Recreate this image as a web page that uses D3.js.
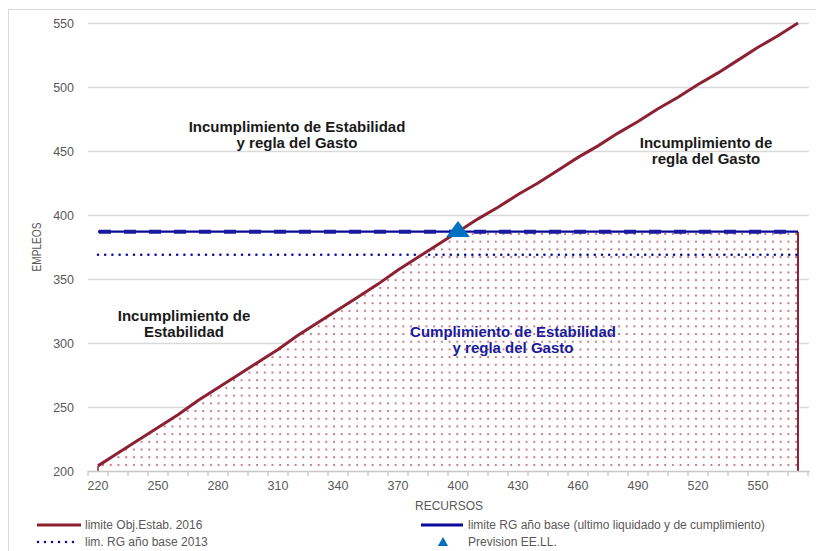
<!DOCTYPE html>
<html><head><meta charset="utf-8">
<script src="https://cdn.jsdelivr.net/npm/d3@7"></script>
<style>
html,body{margin:0;padding:0;background:#fff;}
svg{display:block;font-family:"Liberation Sans",Arial,sans-serif;}
</style></head>
<body>
<svg id="chart" width="816" height="551"></svg>
<script>
// ---- data ----
const categories = [220,230,240,250,260,270,280,290,300,310,320,330,340,350,360,370,380,390,400,410,420,430,440,450,460,470,480,490,500,510,520,530,540,550,560,570];
const limiteEstab = [204,214,224,234,244,255,265,275,285,295,306,316,326,336,346,357,367,377,387,397,406,416,425,435,445,454,464,473,483,492,502,511,521,531,540,550];
const limiteRG = [387,387,387,387,387,387,387,387,387,387,387,387,387,387,387,387,387,387,387,387,387,387,387,387,387,387,387,387,387,387,387,387,387,387,387,387];
const limRG2013 = [369,369,369,369,369,369,369,369,369,369,369,369,369,369,369,369,369,369,369,369,369,369,369,369,369,369,369,369,369,369,369,369,369,369,369,369];
const prevision = [{x:400, y:387}];
const yTicks = [200,250,300,350,400,450,500,550];
const xTickLabels = [220,250,280,310,340,370,400,430,460,490,520,550];
const legendItems = ["limite  Obj.Estab. 2016","limite RG año base (ultimo liquidado y de cumplimiento)","lim. RG año base 2013","Prevision EE.LL."];

// ---- layout ----
const svg = d3.select("#chart");
const L = 88, R = 808, T = 23, B = 471;
const x = d3.scalePoint().domain(categories).range([L, R]).padding(0.5);
const y = d3.scaleLinear().domain([200, 550]).range([B, T]);
const RED = "#8c2133", NAVY = "#0a0a9a", GRID = "#d9d9d9", TXT = "#595959";

// outer border
svg.append("rect").attr("x",8.5).attr("y",9.5).attr("width",820).attr("height",560)
  .attr("fill","none").attr("stroke","#d9d9d9");

// pattern
const defs = svg.append("defs");
const P = 7.7;
const pat = defs.append("pattern").attr("id","dots").attr("patternUnits","userSpaceOnUse")
  .attr("width",P).attr("height",P).attr("x",1).attr("y",0);
pat.append("rect").attr("width",P).attr("height",P).attr("fill","#fff");
pat.append("circle").attr("cx",2).attr("cy",3).attr("r",1.1).attr("fill","#b04d5e").attr("opacity",0.85);
defs.append("clipPath").attr("id","plotclip").append("rect")
  .attr("x",L).attr("y",T-2).attr("width",R-L+2).attr("height",B-T+2);

// gridlines
svg.append("g").selectAll("line").data(yTicks.filter(d=>d>200)).join("line")
  .attr("x1",L).attr("x2",R+1).attr("y1",d=>y(d)+0.5).attr("y2",d=>y(d)+0.5)
  .attr("stroke",GRID).attr("stroke-width",1.3);

// y labels
svg.append("g").selectAll("text").data(yTicks).join("text")
  .attr("x",74).attr("y",d=>y(d)+4.5).attr("text-anchor","end")
  .attr("font-size",12.5).attr("fill",TXT).text(d=>d);

// area (cumplimiento)
const areaData = categories.map((c,i)=>({c, v: Math.min(limiteEstab[i], limiteRG[i])}));
const area = d3.area().x(d=>x(d.c)).y0(y(200)).y1(d=>y(d.v));
svg.append("path").datum(areaData).attr("d",area).attr("fill","url(#dots)");
const last = areaData[areaData.length-1], first = areaData[0];
svg.append("line").attr("x1",x(last.c)).attr("x2",x(last.c)).attr("y1",y(last.v)).attr("y2",y(200))
  .attr("stroke",RED).attr("stroke-width",2);
svg.append("line").attr("x1",x(first.c)).attr("x2",x(first.c)).attr("y1",y(first.v)).attr("y2",y(200))
  .attr("stroke",RED).attr("stroke-width",1.5);

// x axis
svg.append("line").attr("x1",L).attr("x2",R+2).attr("y1",B+0.5).attr("y2",B+0.5)
  .attr("stroke","#c8c8c8").attr("stroke-width",1.5);
const tickPos = categories.map(c=>x(c)-x.step()/2).concat([R]);
svg.append("g").selectAll("line").data(tickPos).join("line")
  .attr("x1",d=>d).attr("x2",d=>d).attr("y1",B).attr("y2",B+5)
  .attr("stroke","#c8c8c8").attr("stroke-width",1.3);
svg.append("g").selectAll("text").data(xTickLabels).join("text")
  .attr("x",d=>x(d)).attr("y",490).attr("text-anchor","middle")
  .attr("font-size",12.5).attr("fill",TXT).text(d=>d);

// axis titles
svg.append("text").attr("x",449).attr("y",510).attr("text-anchor","middle")
  .attr("font-size",12).attr("fill",TXT).text("RECURSOS");
svg.append("text").attr("transform","translate(41,247) rotate(-90)").attr("text-anchor","middle")
  .attr("font-size",13).attr("textLength",49).attr("lengthAdjust","spacingAndGlyphs")
  .attr("fill",TXT).text("EMPLEOS");

// lines
const line = d3.line().x((d,i)=>x(categories[i])).y(d=>y(d));
const gl = svg.append("g").attr("clip-path","url(#plotclip)");
gl.append("path").datum(limRG2013).attr("d",line).attr("fill","none")
  .attr("stroke",NAVY).attr("stroke-width",2.6).attr("stroke-linecap","round")
  .attr("stroke-dasharray","0 7.2");
gl.append("path").datum(limiteRG).attr("d",line).attr("fill","none")
  .attr("stroke",NAVY).attr("stroke-width",2.4);
gl.append("path").datum(limiteRG).attr("d",line).attr("fill","none")
  .attr("stroke","#1a1a9e").attr("stroke-width",4).attr("stroke-dasharray","12 13")
  .attr("stroke-dashoffset",-1);
gl.append("path").datum(limiteEstab).attr("d",line).attr("fill","none")
  .attr("stroke",RED).attr("stroke-width",3);

// triangle marker
const tri = d3.symbol().type(d3.symbolTriangle).size(200);
svg.append("g").selectAll("path").data(prevision).join("path")
  .attr("d",tri).attr("transform",d=>`translate(${x(d.x)},${y(d.y)}) scale(1.1,0.85)`)
  .attr("fill","#0070c0");

// annotations
const notes = [
  {x:297, y:132, lines:["Incumplimiento de Estabilidad","y regla del Gasto"], color:"#1a1a1a"},
  {x:706, y:148, lines:["Incumplimiento de","regla del Gasto"], color:"#1a1a1a"},
  {x:184, y:321, lines:["Incumplimiento de","Estabilidad"], color:"#1a1a1a"},
  {x:513, y:337, lines:["Cumplimiento de Estabilidad","y regla del Gasto"], color:"#1a1a9c"}
];
notes.forEach(n=>{
  const t = svg.append("text").attr("text-anchor","middle").attr("font-size",15)
    .attr("font-weight","bold").attr("fill",n.color);
  n.lines.forEach((s,i)=>t.append("tspan").attr("x",n.x).attr("y",n.y+i*16).text(s));
});

// legend
const lg = svg.append("g").attr("font-size",12).attr("fill",TXT);
lg.append("line").attr("x1",37).attr("x2",81).attr("y1",525).attr("y2",525).attr("stroke",RED).attr("stroke-width",3);
lg.append("text").attr("x",85).attr("y",529).text(legendItems[0]);
lg.append("line").attr("x1",421).attr("x2",463).attr("y1",525).attr("y2",525).attr("stroke",NAVY).attr("stroke-width",3);
lg.append("text").attr("x",468).attr("y",529).text(legendItems[1]);
lg.append("line").attr("x1",38).attr("x2",80).attr("y1",542).attr("y2",542).attr("stroke",NAVY)
  .attr("stroke-width",2.6).attr("stroke-linecap","round").attr("stroke-dasharray","0 7");
lg.append("text").attr("x",85).attr("y",546).text(legendItems[2]);
lg.append("path").attr("d",d3.symbol().type(d3.symbolTriangle).size(45)).attr("transform","translate(443,543)").attr("fill","#0070c0");
lg.append("text").attr("x",468).attr("y",546).text(legendItems[3]);
</script>
</body></html>
